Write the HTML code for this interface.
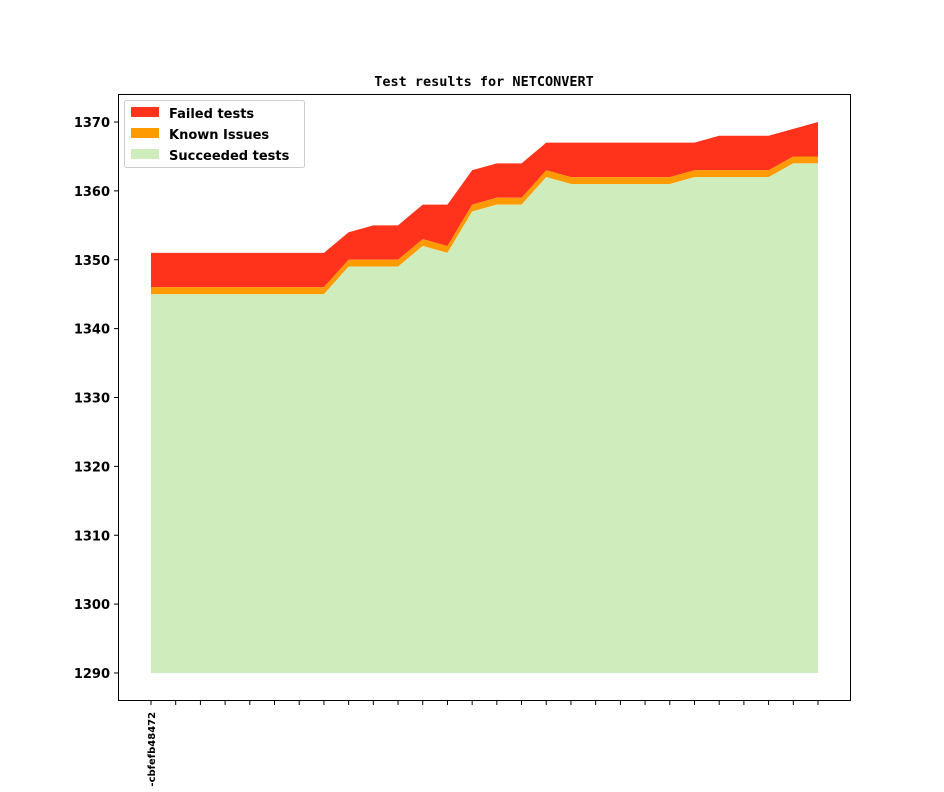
<!DOCTYPE html>
<html><head><meta charset="utf-8"><style>
body{margin:0;background:#fff;}
svg text{font-family:"DejaVu Sans","Liberation Sans",sans-serif;}
</style></head><body>
<svg id="s" width="944" height="787" xmlns="http://www.w3.org/2000/svg">
<rect width="944" height="787" fill="#fff"/>
<g id="areas"></g>
<rect x="118.5" y="94.5" width="732" height="606" fill="none" stroke="#000" stroke-width="1"/>
<g id="ticks"></g>
<text x="484" y="86" text-anchor="middle" font-size="13.5" font-weight="bold" style="font-family:'DejaVu Sans Mono','Liberation Mono',monospace">Test results for NETCONVERT</text>
<text transform="translate(155,790) rotate(-90)" font-size="10" font-weight="bold">i-cbfefb48472</text>
<rect x="124.5" y="100.5" width="180" height="67" fill="#fff" stroke="#ccc" rx="2"/>
<rect x="131" y="107" width="28" height="10" fill="#ff331c"/>
<rect x="131" y="128" width="28" height="10" fill="#ff9a00"/>
<rect x="131" y="149" width="28" height="10" fill="#cfedbc"/>
<text x="169" y="118" font-size="13" font-weight="bold">Failed tests</text>
<text x="169" y="139" font-size="13" font-weight="bold">Known Issues</text>
<text x="169" y="160" font-size="13" font-weight="bold">Succeeded tests</text>
</svg>
<script>
var T=[1351,1351,1351,1351,1351,1351,1351,1351,1354,1355,1355,1358,1358,1363,1364,1364,1367,1367,1367,1367,1367,1367,1367,1368,1368,1368,1369,1370];
var K=[1346,1346,1346,1346,1346,1346,1346,1346,1350,1350,1350,1353,1352,1358,1359,1359,1363,1362,1362,1362,1362,1362,1363,1363,1363,1363,1365,1365];
var S=[1345,1345,1345,1345,1345,1345,1345,1345,1349,1349,1349,1352,1351,1357,1358,1358,1362,1361,1361,1361,1361,1361,1362,1362,1362,1362,1364,1364];
function X(i){return 151+i*(667/27);}
function Y(v){return 673-(v-1290)*6.8875;}
function poly(top,bot,c){var p=[];for(var i=0;i<top.length;i++)p.push(X(i)+","+Y(top[i]));for(var i=top.length-1;i>=0;i--)p.push(X(i)+","+Y(bot?bot[i]:1290));return '<polygon points="'+p.join(" ")+'" fill="'+c+'"/>';}
document.getElementById("areas").innerHTML=poly(T,K,"#ff331c")+poly(K,S,"#ff9a00")+poly(S,null,"#cfedbc");
var h="";
for(var v=1290;v<=1370;v+=10){var y=Y(v);h+='<line x1="114" x2="118" y1="'+y+'" y2="'+y+'" stroke="#000"/><text x="110" y="'+(y+5)+'" text-anchor="end" font-size="13" font-weight="bold">'+v+'</text>';}
for(var i=0;i<28;i++){var x=X(i);h+='<line x1="'+x+'" x2="'+x+'" y1="701" y2="705" stroke="#000"/>';}
document.getElementById("ticks").innerHTML=h;
</script>
</body></html>
